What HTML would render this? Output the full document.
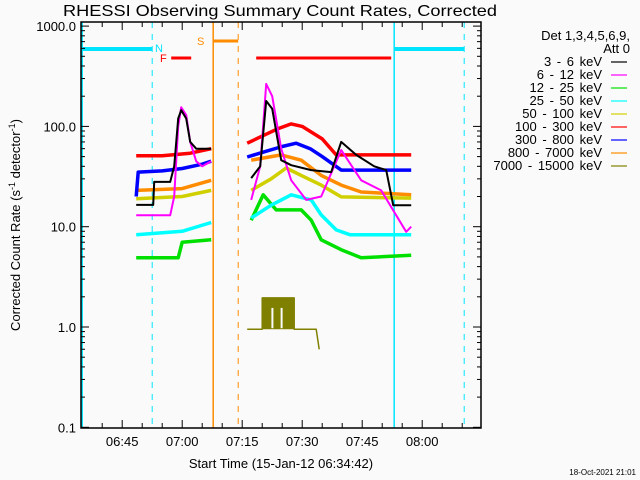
<!DOCTYPE html>
<html><head><meta charset="utf-8">
<style>
html,body{margin:0;padding:0;background:#fafafa;}
svg{display:block;font-family:"Liberation Sans",sans-serif;}
</style></head>
<body>
<svg id="chart" width="640" height="480" viewBox="0 0 640 480" xmlns="http://www.w3.org/2000/svg">
<rect x="0" y="0" width="640" height="480" fill="#fafafa"/>
<text x="280" y="16" text-anchor="middle" font-size="16" textLength="434" lengthAdjust="spacingAndGlyphs" fill="#000">RHESSI Observing Summary Count Rates, Corrected</text>
<text transform="translate(20,225) rotate(-90)" text-anchor="middle" font-size="13" fill="#000">Corrected Count Rate (s<tspan dy="-5" font-size="9">-1</tspan><tspan dy="5"> detector</tspan><tspan dy="-5" font-size="9">-1</tspan><tspan dy="5">)</tspan></text>
<text x="281" y="468" text-anchor="middle" font-size="13" fill="#000">Start Time (15-Jan-12 06:34:42)</text>
<text x="636" y="475" text-anchor="end" font-size="8" fill="#000">18-Oct-2021 21:01</text>
<g id="grid"></g>
<g id="marks"></g>
<g id="axes"></g>
<g id="legend"></g>
</svg>
<script>
// ---- data ----
const bandLabels = ["3 - 6 keV","6 - 12 keV","12 - 25 keV","25 - 50 keV","50 - 100 keV","100 - 300 keV","300 - 800 keV","800 - 7000 keV","7000 - 15000 keV"];
const bandColors = ["#000000","#ff00ff","#00e000","#00ffff","#d0d000","#ff0000","#0000ff","#ff8c00","#808000"];
const xTickLabels = ["06:45","07:00","07:15","07:30","07:45","08:00"];
const xTickTimes = [45,60,75,90,105,120];
const yTickValues = [0.1,1,10,100,1000];
const yTickLabels = ["0.1","1.0","10.0","100.0","1000.0"];
// times in minutes after 06:00
const blackT1 = [48.5,49,52.75,53,57,58,59,59.75,61,62,63.5,65,67.25];
const blackV1 = [16.5,16.5,16.5,28,28,40,120,145,120,70,60,60,60];
const pinkT1 = [48.5,52.75,53,57,58,59,59.75,61,62,63.5,65,67.25];
const pinkV1 = [13,13,13,13,20,100,155,130,70,45,40,45];
const greenT1 = [48.5,59,60,67.25];
const greenV1 = [4.9,4.9,7,7.4];
const cyanT1 = [48.5,60,67.25];
const cyanV1 = [8.3,9,11];
const yellowT1 = [48.5,60,67.25];
const yellowV1 = [19,20,23];
const redT1 = [48.5,55,62,67.25];
const redV1 = [51,51,54,60];
const blueT1 = [48.5,49,55,60,65,67.25];
const blueV1 = [20,35,36,38,42,45];
const orangeT1 = [48.5,60,67.25];
const orangeV1 = [23,24,29];

const blackT2 = [77.25,79.5,81,82.5,84.75,87.25,92.25,97.25,99.75,103.5,108,111,112.75,117.25];
const blackV2 = [30.5,40,179,150,46,41,36.7,35,70,52,40,36.7,16.4,16.4];
const pinkT2 = [77.25,79.5,81,82.5,84.75,87.25,91,94.75,99.75,104.75,109.75,113.5,116,117.25];
const pinkV2 = [18.5,40,265,200,60,29,18.5,20,58,29,23,13,8.9,10];
const greenT2 = [77.25,80.25,83.5,89.75,92.25,94.75,99.75,104.75,117.25];
const greenV2 = [11.6,20.8,14.7,14.7,11.6,7.4,5.9,4.9,5.2];
const cyanT2 = [77.25,82.25,87.25,92.25,94.75,98.5,102,117.25];
const cyanV2 = [12.2,16.4,20.8,18.5,13.1,9.3,8.3,8.3];
const yellowT2 = [77.25,82.25,86,89.75,94.75,99.75,117.25];
const yellowV2 = [23,30,38.5,32.5,26,19.8,19.3];
const redT2 = [76.25,80,84,87.25,90,95,98.5,117.25];
const redV2 = [68,80,95,106,100,75,52,52];
const blueT2 = [76.25,80,85,88.5,92,95,99.75,117.25];
const blueV2 = [49.5,55,63,68,60,50,36.7,36.7];
const orangeT2 = [77.25,84.75,89.75,94.75,99.75,104.75,117.25];
const orangeV2 = [46,52,46,32.5,26,22.2,20.8];
const oliveT = [76.25,80,80,88,88,93.5,94.25];
const oliveV = [0.95,0.95,1.95,1.95,0.95,0.95,0.6];

// flags / mode lines (times)
const saaSolid = [35,113];
const saaDashed = [52.5,130.5];
const attSolid = [67.75];
const attDashed = [74];

// ---- axes ----
const X0=81,X1=481,Y0=22,Y1=428;
const T0=34.7,T1=134.7;
function xs(t){return X0+(t-T0)/(T1-T0)*(X1-X0);}
function ys(v){return 327-100.3*Math.log10(v);}
const NS="http://www.w3.org/2000/svg";
function mk(tag,attrs,parent){const e=document.createElementNS(NS,tag);for(const k in attrs)e.setAttribute(k,attrs[k]);parent.appendChild(e);return e;}
const grid=document.getElementById('grid'),marks=document.getElementById('marks'),axes=document.getElementById('axes'),legend=document.getElementById('legend');

saaSolid.forEach(t=>{const l=mk('line',{x1:xs(t),x2:xs(t),y1:Y0,y2:Y1,stroke:'#00e5ff','stroke-width':1.5},grid);

});
saaDashed.forEach(t=>{const l=mk('line',{x1:xs(t),x2:xs(t),y1:Y0,y2:Y1,stroke:'#00e5ff','stroke-width':1,'stroke-dasharray':'6,6'},grid);

});
attSolid.forEach(t=>{const l=mk('line',{x1:xs(t),x2:xs(t),y1:Y0,y2:Y1,stroke:'#ff8c00','stroke-width':1.5},grid);

});
attDashed.forEach(t=>{const l=mk('line',{x1:xs(t),x2:xs(t),y1:Y0,y2:Y1,stroke:'#ff8c00','stroke-width':1,'stroke-dasharray':'6,6'},grid);

});

function bar(t1,t2,y,c,w,name){const l=mk('line',{x1:xs(t1),x2:xs(t2),y1:y,y2:y,stroke:c,'stroke-width':w},grid);

}
bar(35,52.5,49,'#00e5ff',4,'night-flag-bar');
bar(113,130.5,49,'#00e5ff',4,'night-flag-bar');
bar(67.75,74,41,'#ff8c00',3,'saa-flag-bar');
bar(57.25,62.25,58,'#ff0000',3,'flare-flag-bar');
bar(78.5,112.25,58,'#ff0000',3,'flare-flag-bar');
function lab(x,y,s,c,name){const t=mk('text',{x:x,y:y,'font-size':11,fill:c},grid);t.textContent=s;

}
lab(155,52,'N','#00e5ff','night-flag-label');
lab(160,62,'F','#ff0000','flare-flag-label');
lab(197,45,'S','#ff8c00','saa-flag-label');

function series(T,V,c,name,w){
  const pts=T.map((t,i)=>xs(t).toFixed(1)+','+ys(V[i]).toFixed(1)).join(' ');
  const p=mk('polyline',{points:pts,fill:'none',stroke:c,'stroke-width':w||2.5,'stroke-linejoin':'round'},marks);
  
  
}
const order=[
 [orangeT1,orangeV1,7],[orangeT2,orangeV2,7],
 [yellowT1,yellowV1,4],[yellowT2,yellowV2,4],
 [greenT1,greenV1,2],[greenT2,greenV2,2],
 [cyanT1,cyanV1,3],[cyanT2,cyanV2,3],
 [blueT1,blueV1,6],[blueT2,blueV2,6],
 [redT1,redV1,5],[redT2,redV2,5],
 [pinkT1,pinkV1,1],[pinkT2,pinkV2,1],
 [blackT1,blackV1,0],[blackT2,blackV2,0]];
order.forEach(s=>series(s[0],s[1],bandColors[s[2]],'series-'+bandLabels[s[2]].replace(/ /g,'').replace('keV','-kev'),s[2]===1||s[2]===0?2:3.5));
{
  const f=mk('polygon',{points:xs(80)+','+ys(0.95)+' '+xs(80)+','+ys(1.95)+' '+xs(88)+','+ys(1.95)+' '+xs(88)+','+ys(0.95),fill:'#808000'},marks);
  
  
  [82.3,84.6].forEach(t=>{const g=mk('rect',{x:xs(t),y:ys(1.95)+10,width:2,height:ys(0.95)-ys(1.95)-11,fill:'#fafafa'},marks);
  
  });
  series(oliveT,oliveV,'#808000','series-7000-15000-kev',1.5);
}

const fr=mk('rect',{x:X0,y:Y0,width:X1-X0,height:Y1-Y0,fill:'none',stroke:'#000','stroke-width':1.5},axes);


for(let t=40;t<=130;t+=5){
  const major=(t%15===0);const L=major?8:5;const x=xs(t);
  mk('line',{x1:x,x2:x,y1:Y1,y2:Y1-L,stroke:'#000'},axes);
  mk('line',{x1:x,x2:x,y1:Y0,y2:Y0+L,stroke:'#000'},axes);
}
xTickTimes.forEach((t,i)=>{const e=mk('text',{x:xs(t),y:446,'text-anchor':'middle','font-size':13,fill:'#000'},axes);e.textContent=xTickLabels[i];

});
yTickValues.forEach((v,i)=>{
  const y=ys(v);
  mk('line',{x1:X0,x2:X0+8,y1:y,y2:y,stroke:'#000'},axes);
  mk('line',{x1:X1,x2:X1-8,y1:y,y2:y,stroke:'#000'},axes);
  const e=mk('text',{x:76,y:y+5,'text-anchor':'end','font-size':13,fill:'#000'},axes);e.textContent=yTickLabels[i];
  
  
  if(v<1000)for(let m=2;m<=9;m++){const yy=ys(v*m);
    mk('line',{x1:X0,x2:X0+4,y1:yy,y2:yy,stroke:'#000'},axes);
    mk('line',{x1:X1,x2:X1-4,y1:yy,y2:yy,stroke:'#000'},axes);}
});
{
  const a=mk('text',{x:630,y:40,'text-anchor':'end','font-size':13,fill:'#000'},legend);a.textContent='Det 1,3,4,5,6,9,';
  
  
  const b=mk('text',{x:630,y:53,'text-anchor':'end','font-size':13,fill:'#000'},legend);b.textContent='Att 0';
  
  
  bandLabels.forEach((s,i)=>{
    const y=66+i*13;
    const t=mk('text',{x:602,y:y,'text-anchor':'end','font-size':13,fill:'#000','word-spacing':'2'},legend);t.textContent=s;
    
    
    const l=mk('line',{x1:611,x2:627,y1:y-4,y2:y-4,stroke:bandColors[i],'stroke-width':1.2},legend);
    
    
  });
}
</script>
</body></html>
